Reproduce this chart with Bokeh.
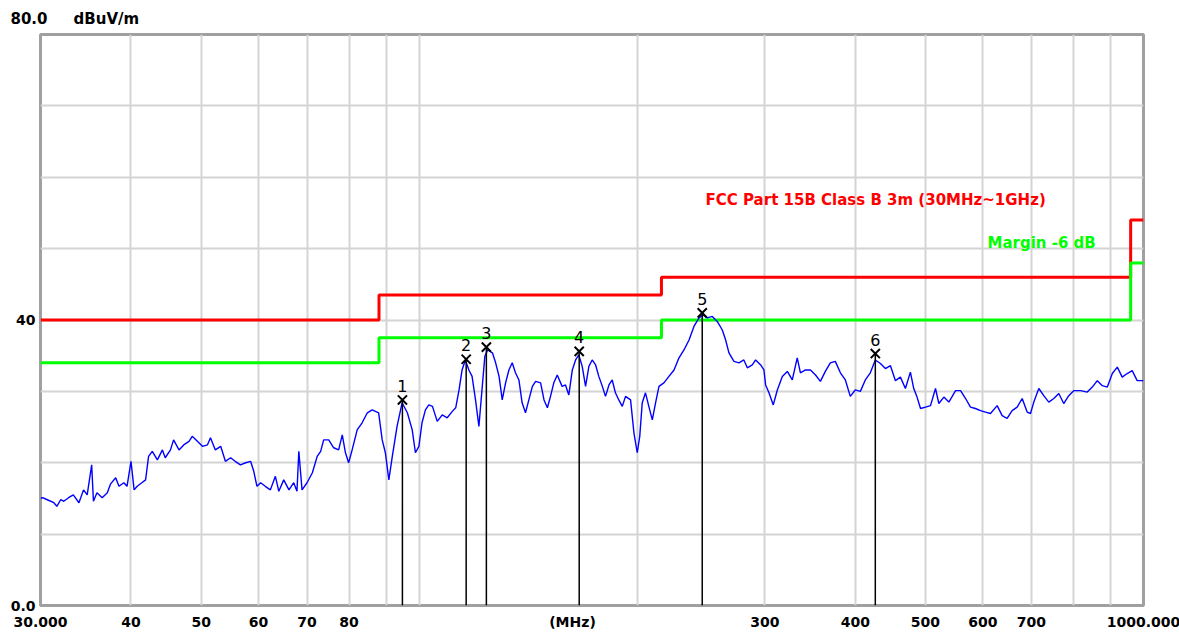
from bokeh.plotting import figure
from bokeh.models import Range1d, FixedTicker, Label, LabelSet, ColumnDataSource
from bokeh.core.properties import value
from bokeh.embed import file_html
from bokeh.resources import INLINE

# ---------------- data ----------------
TRACE_FREQ = [30.0, 30.2, 30.6, 31.3, 31.6, 32.0, 32.3, 32.8, 33.3, 33.9, 34.4, 34.8, 35.3, 35.5, 35.9,
              36.5, 37.1, 37.47, 38.1, 38.5, 39.1, 39.5, 40.0, 40.4, 40.8, 41.4, 41.9, 42.3, 42.8, 43.5,
              44.2, 44.6, 45.35, 45.8, 46.6, 47.3, 48.1, 48.6, 49.4, 50.2, 51.0, 51.5, 52.3, 53.2, 54.0,
              54.9, 55.7, 56.65, 57.6, 58.5, 59.1, 59.7, 60.4, 61.3, 62.3, 63.3, 64.0, 65.0, 66.1, 67.1,
              67.8, 68.2, 68.9, 70.0, 71.2, 72.3, 73.1, 73.8, 75.0, 76.2, 77.4, 78.3, 79.1, 79.9, 80.8,
              82.1, 83.4, 84.8, 86.1, 87.0, 87.9, 88.9, 89.8, 90.8, 91.8, 93.2, 94.7, 96.3,
              97.8, 98.8, 99.9, 100.9, 102.0, 103.1, 104.3, 105.9, 107.6, 109.3, 111.1, 112.3, 113.5,
              114.6, 115.8, 117.1, 118.3, 119.6, 120.9, 122.2, 123.2, 124.3, 126.2, 127.5, 128.9, 130.2,
              131.6, 133.0, 134.4, 135.8, 137.3, 138.7, 140.2, 141.7, 143.3, 144.8, 147.1, 148.7, 150.3,
              151.8, 153.4, 155.1, 157.5, 159.2, 160.9, 162.7, 164.4, 166.1, 167.9, 169.7, 171.5,
              173.3, 175.2, 177.0, 179.0, 180.8, 182.8, 184.7, 186.6, 188.6, 190.7, 192.7, 195.8, 197.9,
              200.0, 201.6, 203.2, 205.3, 207.5, 209.8, 212.0, 214.3, 217.7, 221.2, 224.8, 228.4, 232.0,
              235.8, 239.5, 243.4, 246.4, 249.9, 253.9, 257.9, 262.1, 264.9, 267.7, 272.0, 276.3, 280.7,
              283.8, 288.3, 291.4, 296.1, 299.2, 300.8, 304.0, 308.2, 312.2, 317.2, 322.3, 327.4, 332.6,
              336.0, 341.4, 346.9, 352.5, 358.0, 363.7, 369.5, 375.4, 381.5, 387.6, 393.7, 400.0, 406.5,
              413.0, 419.6, 426.3,
              433.3, 440.2, 447.3, 454.5, 461.7, 469.1, 476.6, 481.7, 486.8, 492.2, 500.1, 508.1, 516.2,
              521.7, 530.1, 538.6, 550.2, 559.0, 568.0, 576.9, 586.1, 595.6, 605.1, 614.8, 628.0, 638.0,
              648.2, 658.6, 669.2, 680.0, 690.8, 698.2, 705.6, 716.9, 728.3, 740.0, 751.9, 763.9, 776.0,
              788.5, 801.1, 818.7, 836.3, 849.8, 863.4, 877.2, 891.3, 905.6, 920.1, 934.6, 949.6, 964.7,
              980.1, 1000.0]
TRACE_DB = [15.0, 15.1, 14.85, 14.4, 13.9, 14.85, 14.6, 15.1, 15.5, 14.4, 16.2, 15.5, 19.7, 14.6, 15.8,
            15.1, 15.8, 17.0, 17.9, 16.7, 17.2, 16.7, 20.2, 16.2, 16.7, 17.2, 17.6, 20.9, 21.6, 20.4,
            21.8, 20.7, 21.8, 23.2, 21.8, 22.5, 23.0, 23.7, 23.0, 22.3, 22.5, 23.5, 21.8, 22.3, 20.2,
            20.7, 20.2, 19.7, 20.0, 20.2, 18.8, 16.7, 17.2, 16.7, 16.2, 18.1, 16.0, 17.6, 16.2, 17.2,
            16.0, 21.6, 16.2, 17.2, 18.6, 20.9, 21.6, 23.2, 23.2, 22.1, 21.8, 23.9, 21.4, 20.0, 21.8,
            24.6, 25.6, 27.0, 27.4, 27.2, 27.0, 23.2, 21.4, 17.6, 20.9, 25.1, 28.4, 27.0,
            24.6, 21.4, 22.3, 25.6, 27.4, 28.1, 27.9, 25.8, 26.7, 26.3, 27.2, 27.7, 30.2,
            33.0, 34.4, 33.0, 32.1, 28.8, 25.1, 30.7, 34.9, 35.8, 35.4, 34.0, 32.1, 28.8,
            31.2, 33.0, 34.0, 32.6, 31.6, 28.4, 27.0, 28.8, 30.7, 31.4, 31.2, 28.8, 27.7,
            29.3, 31.2, 32.3, 30.7, 30.9, 29.5, 33.0, 34.4, 35.1, 33.5, 30.7, 33.5,
            34.4, 33.7, 32.1, 30.7, 29.3, 30.9, 31.6, 29.8, 28.8, 27.9, 29.3, 28.8, 24.2,
            21.4, 23.7, 28.4, 29.8, 27.9, 26.0, 28.4, 30.7, 31.2, 32.1, 33.0, 34.7, 35.8,
            37.2, 39.1, 40.3, 40.7, 40.3, 40.5, 39.8, 38.6, 37.2, 35.4, 34.2, 34.0, 34.4,
            33.3, 33.7, 34.4, 33.7, 33.0, 30.9, 29.8, 28.1, 30.2, 32.1, 32.8, 31.6, 34.7,
            32.6, 33.0, 33.0, 32.3, 31.4, 32.8, 34.0, 34.2, 32.6, 31.6, 29.3, 30.2, 30.0,
            31.6, 32.6, 34.4,
            33.9, 33.2, 33.6, 31.5, 32.0, 30.4, 32.7, 30.4, 29.2, 27.6, 27.8, 28.0, 30.4,
            28.3, 29.2, 28.5, 30.1, 30.1, 29.0, 27.8, 27.6, 27.3, 27.1, 26.9, 28.0, 26.6,
            26.2, 27.3, 27.8, 29.0, 27.1, 26.9, 28.5, 30.4, 29.4, 28.5, 29.0, 29.7, 28.3,
            29.4, 30.1, 30.1, 29.9, 30.6, 31.5, 30.8, 30.6, 32.5, 33.4, 32.0, 32.5, 32.9,
            31.5, 31.5]

LIMIT_FREQ = [30, 88, 88, 216, 216, 960, 960, 1000]
LIMIT_DB = [40, 40, 43.5, 43.5, 46, 46, 54, 54]
MARGIN_DB = [34, 34, 37.5, 37.5, 40, 40, 48, 48]

MK_FREQ = [94.8, 116.1, 123.8, 166.3, 245.9, 426.3]
MK_DB = [28.8, 34.5, 36.2, 35.6, 41.0, 35.3]
MK_NAMES = ["1", "2", "3", "4", "5", "6"]

X_TICKS = [30, 40, 50, 60, 70, 80, 300, 400, 500, 600, 700, 1000]
X_TICK_LABELS = ["30.000", "40", "50", "60", "70", "80", "300", "400", "500", "600", "700", "1000.000"]
X_UNIT = "(MHz)"
X_UNIT_AT = 162.8
X_GRID = [40, 50, 60, 70, 80, 90, 100, 200, 300, 400, 500, 600, 700, 800, 900]
Y_GRID = [0, 10, 20, 30, 40, 50, 60, 70, 80]
Y_TICKS = [0, 40]
Y_TICK_LABELS = ["0.0", "40"]
Y_TOP_LABEL = "80.0"
Y_UNIT = "dBuV/m"
LIMIT_NAME = "FCC Part 15B Class B 3m (30MHz~1GHz)"
MARGIN_NAME = "Margin -6 dB"

FONT = "DejaVu Sans"

# ---------------- figure ----------------
p = figure(width=1179, height=633, x_axis_type="log",
           x_range=Range1d(30, 1000), y_range=Range1d(0, 80),
           x_axis_location="below", y_axis_location="left",
           toolbar_location=None, output_backend="svg",
           min_border_left=40, min_border_right=36, min_border_top=34, min_border_bottom=28)
p.background_fill_color = "white"
p.border_fill_color = "white"
p.outline_line_color = "#a0a0a0"
p.outline_line_width = 3

# title row: top value of the y scale and the unit
p.title.text = Y_TOP_LABEL + "\u00a0" * 5 + Y_UNIT
p.title.align = "left"
p.title.offset = -30
p.title.standoff = 14
p.title.text_font = FONT
p.title.text_font_style = "bold"
p.title.text_font_size = "15px"
p.title.text_color = "black"

ax = p.xaxis[0]
ax.ticker = FixedTicker(ticks=X_TICKS + [X_UNIT_AT])
ax.major_label_overrides = {**{t: s for t, s in zip(X_TICKS, X_TICK_LABELS)}, X_UNIT_AT: X_UNIT}

ay = p.yaxis[0]
ay.ticker = FixedTicker(ticks=Y_TICKS)
ay.major_label_overrides = {t: s for t, s in zip(Y_TICKS, Y_TICK_LABELS)}
ay.major_label_standoff = 5

for a in (ax, ay):
    a.axis_line_color = None
    a.major_tick_line_color = None
    a.minor_tick_line_color = None
    a.major_tick_in = 0
    a.major_tick_out = 0
    a.major_label_text_font = FONT
    a.major_label_text_font_style = "bold"
    a.major_label_text_font_size = "14px"
    a.major_label_text_color = "black"
ax.major_label_standoff = 8

p.xgrid.ticker = FixedTicker(ticks=X_GRID)
p.ygrid.ticker = FixedTicker(ticks=Y_GRID)
p.xgrid.grid_line_color = "#d4d4d4"
p.ygrid.grid_line_color = "#d4d4d4"
p.xgrid.grid_line_width = 2
p.ygrid.grid_line_width = 2

p.line(LIMIT_FREQ, LIMIT_DB, line_color="#ff0000", line_width=3)
p.line(LIMIT_FREQ, MARGIN_DB, line_color="#00ff00", line_width=3)
p.line(TRACE_FREQ, TRACE_DB, line_color="#0000ff", line_width=1.4)

p.segment(x0=MK_FREQ, y0=[0] * len(MK_FREQ), x1=MK_FREQ, y1=MK_DB, line_color="black", line_width=1.5)
p.scatter(MK_FREQ, MK_DB, marker="x", size=13, line_color="black", line_width=2)

src = ColumnDataSource(dict(x=MK_FREQ, y=MK_DB, t=MK_NAMES))
p.add_layout(LabelSet(x="x", y="y", text="t", source=src, y_offset=14, text_align="center",
                      text_baseline="middle", text_font=value(FONT), text_font_size="16px",
                      text_color="black"))

# legend-like texts
p.add_layout(Label(x=248.5, y=56.8, text=LIMIT_NAME, text_align="left", text_baseline="middle",
                   text_font=FONT, text_font_style="bold", text_font_size="15px", text_color="#ff0000"))
p.add_layout(Label(x=609, y=50.8, text=MARGIN_NAME, text_align="left", text_baseline="middle",
                   text_font=FONT, text_font_style="bold", text_font_size="15px", text_color="#00ff00"))

open("out.html", "w").write(file_html(p, INLINE))
